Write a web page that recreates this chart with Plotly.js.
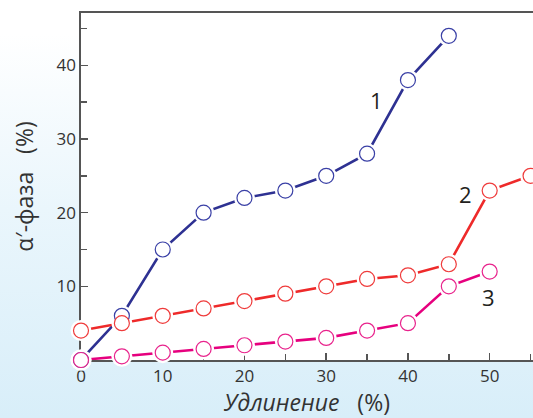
<!DOCTYPE html>
<html>
<head>
<meta charset="utf-8">
<script src="https://cdn.plot.ly/plotly-3.0.1.min.js"></script>
<style>
html,body{margin:0;padding:0;}
body{width:533px;height:418px;overflow:hidden;background:linear-gradient(180deg,#ffffff 8%,#eaf6fc 50%,#d8eef9 100%);}
#chart{width:533px;height:418px;}
</style>
</head>
<body>
<div id="chart"></div>
<script>
const elongation1 = [0, 5, 10, 15, 20, 25, 30, 35, 40, 45];
const phase1 = [0, 6, 15, 20, 22, 23, 25, 28, 38, 44];
const elongation2 = [0, 5, 10, 15, 20, 25, 30, 35, 40, 45, 50, 55];
const phase2 = [4, 5, 6, 7, 8, 9, 10, 11, 11.5, 13, 23, 25];
const elongation3 = [0, 5, 10, 15, 20, 25, 30, 35, 40, 45, 50];
const phase3 = [0, 0.5, 1, 1.5, 2, 2.5, 3, 4, 5, 10, 12];
const seriesLabels = ['1', '2', '3'];
const labelX = [36.1, 47.1, 49.8];
const labelY = [35.3, 22.5, 8.5];
const xTicks = [0, 10, 20, 30, 40, 50];
const yTicks = [10, 20, 30, 40];

const series = [
  {x: elongation1, y: phase1, color: '#2E3192', mcolor: '#3A40A6'},
  {x: elongation2, y: phase2, color: '#EE2A2A', mcolor: '#EF3B3B'},
  {x: elongation3, y: phase3, color: '#E6007E', mcolor: '#E8238C'}
];

const traces = [];
series.forEach(s => traces.push({x: s.x, y: s.y, mode: 'lines', line: {color: s.color, width: 2.6}, cliponaxis: false, hoverinfo: 'skip'}));
series.forEach(s => traces.push({x: s.x, y: s.y, mode: 'markers', marker: {symbol: 'circle', size: 21, color: '#ffffff', line: {width: 0}}, cliponaxis: false, hoverinfo: 'skip'}));
series.forEach(s => traces.push({x: s.x, y: s.y, mode: 'markers', marker: {symbol: 'circle', size: 15, color: '#ffffff', line: {color: s.mcolor, width: 1.2}}, cliponaxis: false, hoverinfo: 'skip'}));

const font = {family: '"Open Sans", "Noto Sans", sans-serif', color: '#231F20'};

const annotations = seriesLabels.map((t, i) => ({
  x: labelX[i], y: labelY[i], xref: 'x', yref: 'y', text: t, showarrow: false,
  font: Object.assign({}, font, {size: 22})
}));

const layout = {
  width: 533, height: 418,
  margin: {l: 81, r: 0, t: 13, b: 58},
  paper_bgcolor: 'rgba(0,0,0,0)',
  plot_bgcolor: '#ffffff',
  showlegend: false,
  font: font,
  xaxis: {
    range: [0, 55.3], tickvals: xTicks, ticktext: xTicks.map(String),
    ticks: 'inside', ticklen: 7, tickwidth: 1.5, tickcolor: '#555',
    showline: true, linecolor: '#555', linewidth: 1.6, mirror: true,
    showgrid: false, zeroline: false, layer: 'below traces',
    minor: {dtick: 5, tick0: 0, ticks: 'inside', ticklen: 6, tickwidth: 1.5, tickcolor: '#555', showgrid: false},
    tickfont: Object.assign({}, font, {size: 17, color: '#333'}),
    title: {text: '<i>Удлинение</i>\u00A0\u00A0\u00A0(%)', font: Object.assign({}, font, {size: 23, color: '#333'}), standoff: 8}
  },
  yaxis: {
    range: [0, 47.1], tickvals: yTicks, ticktext: yTicks.map(String),
    ticks: 'inside', ticklen: 7, tickwidth: 1.5, tickcolor: '#555',
    showline: true, linecolor: '#555', linewidth: 1.6, mirror: false,
    showgrid: false, zeroline: false, layer: 'below traces',
    minor: {dtick: 5, tick0: 0, ticks: 'inside', ticklen: 6, tickwidth: 1.5, tickcolor: '#555', showgrid: false},
    tickfont: Object.assign({}, font, {size: 17, color: '#333'}),
    title: {text: 'α′-фаза\u00A0\u00A0\u00A0(%)', font: Object.assign({}, font, {size: 23, color: '#333'}), standoff: 16}
  },
  annotations: annotations
};

Plotly.newPlot('chart', traces, layout, {displayModeBar: false, staticPlot: true});
</script>
</body>
</html>
